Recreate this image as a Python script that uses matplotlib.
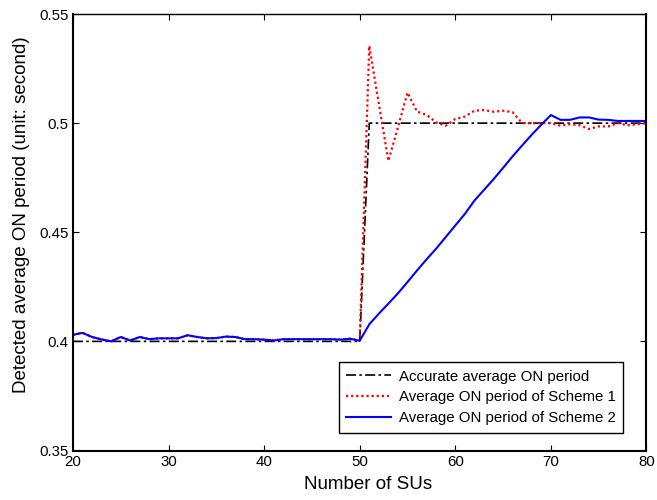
import numpy as np
import matplotlib.pyplot as plt

plt.rcParams['font.family'] = ['Liberation Sans', 'DejaVu Sans']

# -------------------------
# Data
# -------------------------
n_sus = np.arange(20, 81)

accurate = [0.40] * 31 + [0.50] * 30

scheme2 = [0.403, 0.4039, 0.402, 0.4009, 0.400, 0.402, 0.4004, 0.402, 0.401, 0.4014,
           0.4014, 0.4014, 0.4028, 0.402, 0.4014, 0.4015, 0.4022, 0.402, 0.401, 0.401,
           0.4008, 0.4004, 0.401, 0.401, 0.401, 0.401, 0.401, 0.401, 0.4008, 0.4012,
           0.4003,
           0.4078, 0.4127, 0.4173, 0.422, 0.4272, 0.4325, 0.4376, 0.4425, 0.4478, 0.4531,
           0.4584, 0.4645, 0.4694, 0.4743, 0.4795, 0.4848, 0.4898, 0.4947, 0.4993, 0.5037,
           0.5015, 0.5015, 0.5026, 0.5026, 0.5016, 0.5015, 0.501, 0.501, 0.501, 0.501]

scheme1 = scheme2[:31] + [
    0.5354, 0.509, 0.4827, 0.498, 0.514, 0.5053, 0.5038, 0.5003, 0.4988, 0.5019,
    0.503, 0.5057, 0.506, 0.5052, 0.5057, 0.505, 0.500, 0.500, 0.500, 0.500,
    0.4988, 0.4995, 0.499, 0.4973, 0.4985, 0.4985, 0.500, 0.499, 0.4995, 0.500]

# -------------------------
# Plot
# -------------------------
fig = plt.figure(figsize=(6.57, 5.00), dpi=100)
ax = fig.add_axes([0.111, 0.099, 0.873, 0.873])

ax.plot(n_sus, accurate, color='black', linestyle=(0, (6, 2, 1.5, 2)), lw=1.2,
        label='Accurate average ON period')
ax.plot(n_sus, scheme1, color='red', linestyle=(0, (1, 1.3)), lw=1.6,
        label='Average ON period of Scheme 1')
ax.plot(n_sus, scheme2, color='blue', linestyle='-', lw=1.5,
        label='Average ON period of Scheme 2')

ax.set_xlim(20, 80)
ax.set_ylim(0.35, 0.55)
ax.set_xticks(np.arange(20, 81, 10))
ax.set_yticks([0.35, 0.4, 0.45, 0.5, 0.55])
ax.set_yticklabels(['0.35', '0.4', '0.45', '0.5', '0.55'])
ax.tick_params(direction='in', top=True, right=True, labelsize=10.8, length=4, pad=3)
for side in ['left', 'bottom', 'right']:
    ax.spines[side].set_linewidth(1.5)
ax.spines['top'].set_linewidth(1.0)

ax.set_xlabel('Number of SUs', fontsize=13.5)
ax.set_ylabel('Detected average ON period (unit: second)', fontsize=13.5)
ax.xaxis.set_label_coords(0.515, -0.058)
ax.yaxis.set_label_coords(-0.075, 0.54)

leg = ax.legend(loc='lower right', bbox_to_anchor=(0.959, 0.041), borderaxespad=0,
                fontsize=10.8, fancybox=False, edgecolor='black', framealpha=1,
                handlelength=3.0, handletextpad=0.5, borderpad=0.5, labelspacing=0.45)
leg.get_frame().set_linewidth(1.0)

fig.savefig('out.png', dpi=100)
